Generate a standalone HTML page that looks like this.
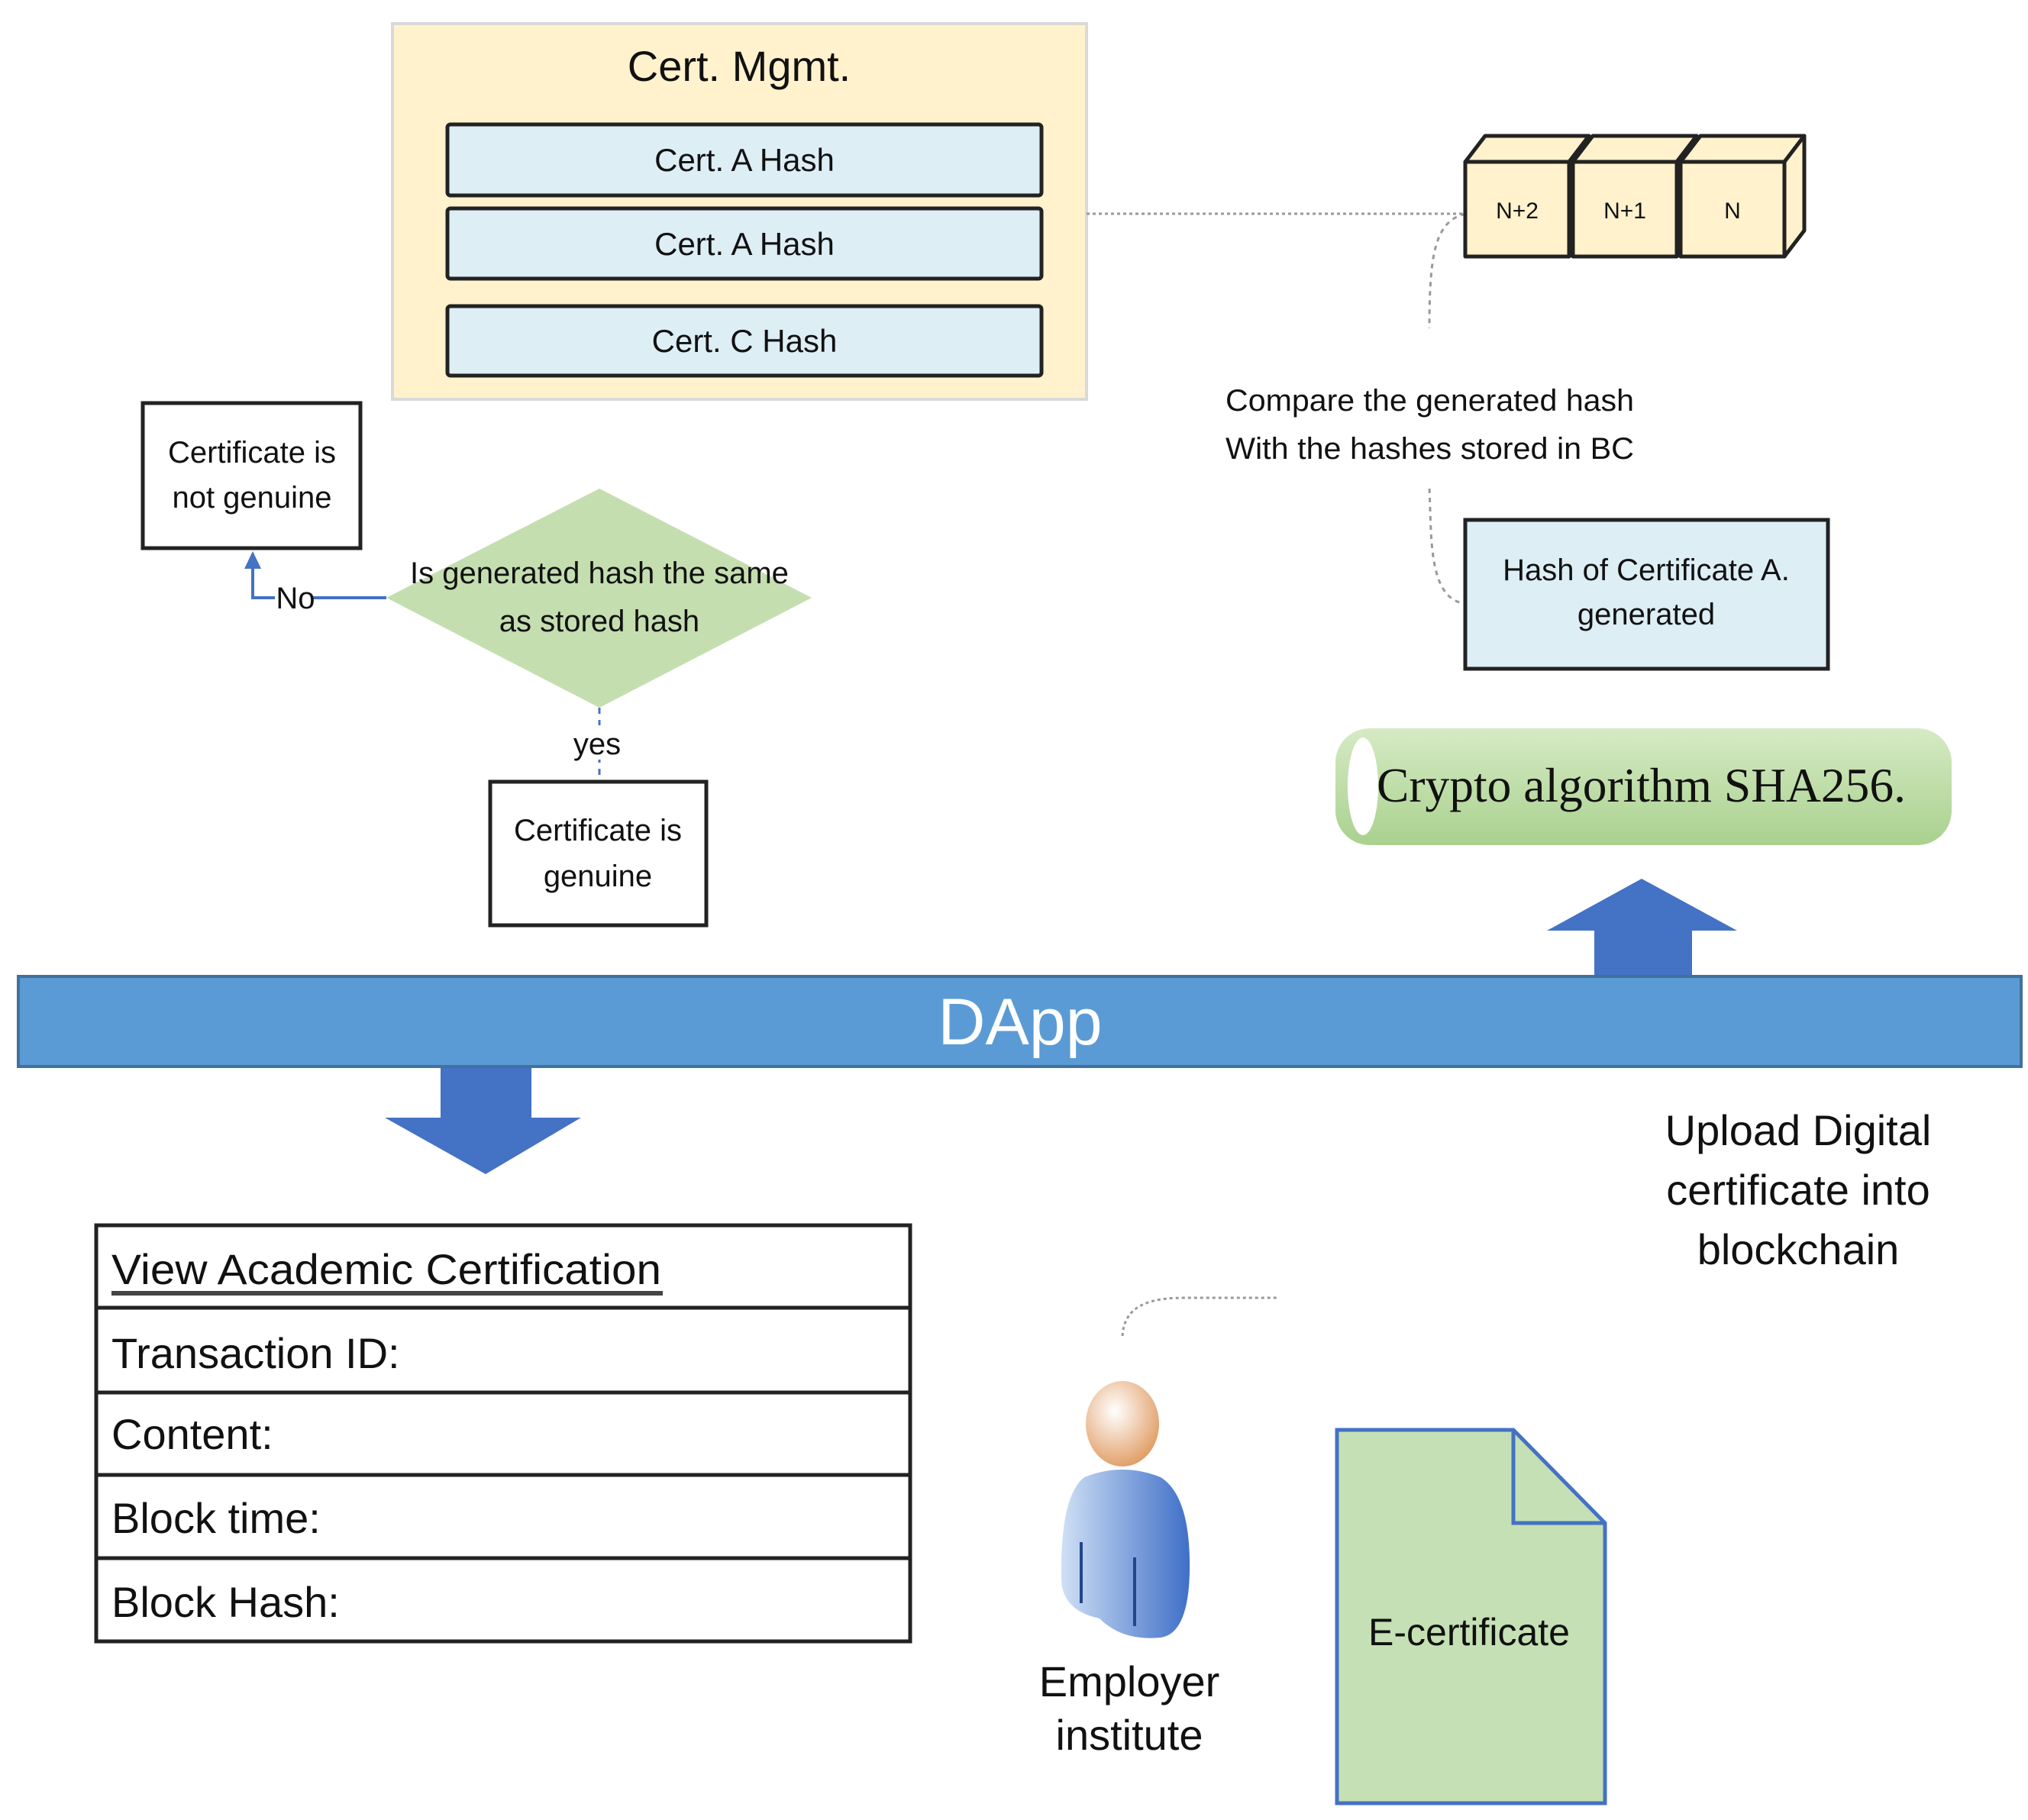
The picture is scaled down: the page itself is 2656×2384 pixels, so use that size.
<!DOCTYPE html>
<html><head><meta charset="utf-8"><style>
html,body{margin:0;padding:0;background:#fff}
svg{display:block}
text{font-family:"Liberation Sans Narrow","Liberation Sans",sans-serif;fill:#111}
</style></head><body>
<svg width="2656" height="2384" viewBox="0 0 2656 2384" xmlns="http://www.w3.org/2000/svg">
<defs>
<linearGradient id="cyl" x1="0" y1="0" x2="0" y2="1"><stop offset="0" stop-color="#d6eac4"/><stop offset="1" stop-color="#a9d18e"/></linearGradient>
<linearGradient id="body" x1="0" y1="0" x2="1" y2="0"><stop offset="0" stop-color="#cfe0f5"/><stop offset="1" stop-color="#3f6fc8"/></linearGradient>
<radialGradient id="head" cx="0.4" cy="0.35" r="0.7"><stop offset="0" stop-color="#fff"/><stop offset="1" stop-color="#e09a60"/></radialGradient>
</defs>
<rect x="514" y="31" width="909" height="492" fill="#fff2cc" stroke="#d9d9d9" stroke-width="4"/>
<text x="968" y="106" font-size="56" text-anchor="middle">Cert. Mgmt.</text>
<rect x="586" y="163" width="778" height="93" fill="#ddeef5" stroke="#222" stroke-width="5" rx="4"/>
<text x="975" y="224" font-size="42" text-anchor="middle">Cert. A Hash</text>
<rect x="586" y="273" width="778" height="92" fill="#ddeef5" stroke="#222" stroke-width="5" rx="4"/>
<text x="975" y="334" font-size="42" text-anchor="middle">Cert. A Hash</text>
<rect x="586" y="401" width="778" height="91" fill="#ddeef5" stroke="#222" stroke-width="5" rx="4"/>
<text x="975" y="461" font-size="42" text-anchor="middle">Cert. C Hash</text>
<path d="M1423 280 L1919 280" stroke="#999" stroke-width="3" stroke-dasharray="4 4" fill="none"/>
<path d="M1919 280 C1880 290 1872 330 1872 430" stroke="#999" stroke-width="3" stroke-dasharray="6 6" fill="none"/>
<path d="M1872 640 C1875 700 1870 780 1915 790" stroke="#999" stroke-width="3" stroke-dasharray="6 6" fill="none"/>
<path d="M1470 1750 C1472 1720 1490 1700 1550 1700 L1672 1700" stroke="#999" stroke-width="3" stroke-dasharray="4 4" fill="none"/>
<g stroke="#222" stroke-width="5" fill="#fff2cc" stroke-linejoin="round">
<polygon points="1919,212 1945,178 2081,178 2055,212"/><polygon points="2055,212 2081,178 2081,302 2055,336"/><rect x="1919" y="212" width="136" height="124"/>
<polygon points="2060,212 2086,178 2222,178 2196,212"/><polygon points="2196,212 2222,178 2222,302 2196,336"/><rect x="2060" y="212" width="136" height="124"/>
<polygon points="2201,212 2227,178 2363,178 2337,212"/><polygon points="2337,212 2363,178 2363,302 2337,336"/><rect x="2201" y="212" width="136" height="124"/>
</g>
<text x="1987" y="286" font-size="30" text-anchor="middle">N+2</text>
<text x="2128" y="286" font-size="30" text-anchor="middle">N+1</text>
<text x="2269" y="286" font-size="30" text-anchor="middle">N</text>
<text x="1605" y="538" font-size="40" textLength="535" lengthAdjust="spacingAndGlyphs">Compare the generated hash</text>
<text x="1605" y="601" font-size="40" textLength="535" lengthAdjust="spacingAndGlyphs">With the hashes stored in BC</text>
<rect x="1919" y="681" width="475" height="195" fill="#ddeef5" stroke="#222" stroke-width="5"/>
<text x="2156" y="760" font-size="40" text-anchor="middle">Hash of Certificate A.</text>
<text x="2156" y="818" font-size="40" text-anchor="middle">generated</text>
<rect x="1749" y="954" width="807" height="153" rx="45" fill="url(#cyl)"/>
<ellipse cx="1785" cy="1030" rx="20" ry="64" fill="#fff"/>
<text x="1803" y="1050" font-size="64" textLength="693" lengthAdjust="spacingAndGlyphs" style="font-family:'Liberation Serif',serif">Crypto algorithm SHA256.</text>
<polygon points="2088,1280 2088,1219 2026,1219 2150,1151 2275,1219 2216,1219 2216,1280" fill="#4472c4"/>
<rect x="24" y="1279" width="2623" height="118" fill="#5b9bd5" stroke="#41719c" stroke-width="4"/>
<text x="1336" y="1368" font-size="86" text-anchor="middle" style="fill:#fff;font-family:'Liberation Sans',sans-serif">DApp</text>
<polygon points="577,1399 696,1399 696,1464 761,1464 636,1538 504,1464 577,1464" fill="#4472c4"/>
<g stroke="#222" stroke-width="5" fill="#fff">
<rect x="126" y="1605" width="1066" height="545"/>
<line x1="126" y1="1713" x2="1192" y2="1713"/><line x1="126" y1="1824" x2="1192" y2="1824"/>
<line x1="126" y1="1932" x2="1192" y2="1932"/><line x1="126" y1="2041" x2="1192" y2="2041"/>
</g>
<g font-size="56">
<text x="146" y="1682" textLength="720" lengthAdjust="spacingAndGlyphs">View Academic Certification</text>
<line x1="146" y1="1694" x2="868" y2="1694" stroke="#444" stroke-width="6"/>
<text x="146" y="1792">Transaction ID:</text>
<text x="146" y="1898">Content:</text>
<text x="146" y="2008">Block time:</text>
<text x="146" y="2118">Block Hash:</text>
</g>
<g font-size="56" text-anchor="middle">
<text x="2355" y="1500">Upload Digital</text>
<text x="2355" y="1578">certificate into</text>
<text x="2355" y="1656">blockchain</text>
<text x="1479" y="2222">Employer</text>
<text x="1479" y="2292">institute</text>
</g>
<path d="M1420 1935 Q1470 1915 1520 1935 Q1560 1960 1558 2060 Q1556 2140 1520 2145 Q1470 2150 1440 2120 Q1392 2110 1390 2070 Q1388 1960 1420 1935Z" fill="url(#body)"/>
<line x1="1416" y1="2020" x2="1416" y2="2100" stroke="#24458a" stroke-width="4"/>
<line x1="1486" y1="2040" x2="1486" y2="2130" stroke="#24458a" stroke-width="4"/>
<ellipse cx="1470" cy="1865" rx="48" ry="56" fill="url(#head)"/>
<path d="M1751 1873 L1982 1873 L2102 1995 L2102 2362 L1751 2362 Z" fill="#c5e0b4" stroke="#4472c4" stroke-width="5"/>
<path d="M1982 1873 L1982 1995 L2102 1995" fill="none" stroke="#4472c4" stroke-width="5"/>
<text x="1924" y="2155" font-size="50" text-anchor="middle">E-certificate</text>
<rect x="187" y="528" width="285" height="190" fill="#fff" stroke="#222" stroke-width="5"/>
<text x="330" y="606" font-size="40" text-anchor="middle">Certificate is</text>
<text x="330" y="665" font-size="40" text-anchor="middle">not genuine</text>
<polygon points="785,640 1063,783 785,927 506,783" fill="#c5deb0"/>
<text x="785" y="764" font-size="40" text-anchor="middle">Is generated hash the same</text>
<text x="785" y="827" font-size="40" text-anchor="middle">as stored hash</text>
<path d="M506 783 L331 783 L331 740" stroke="#4472c4" stroke-width="4" fill="none"/>
<polygon points="320,745 342,745 331,722" fill="#4472c4"/>
<rect x="360" y="765" width="50" height="40" fill="#fff"/>
<text x="387" y="797" font-size="40" text-anchor="middle">No</text>
<line x1="785" y1="927" x2="785" y2="1020" stroke="#4472c4" stroke-width="3" stroke-dasharray="8 8"/>
<rect x="745" y="950" width="80" height="45" fill="#fff"/>
<text x="782" y="988" font-size="40" text-anchor="middle">yes</text>
<rect x="642" y="1024" width="283" height="188" fill="#fff" stroke="#222" stroke-width="5"/>
<text x="783" y="1101" font-size="40" text-anchor="middle">Certificate is</text>
<text x="783" y="1161" font-size="40" text-anchor="middle">genuine</text>
</svg>
</body></html>
